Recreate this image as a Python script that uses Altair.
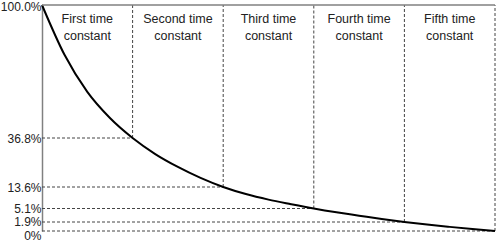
import altair as alt
import pandas as pd

# Decay curve (time in time constants, percent remaining)
t_vals = [0, 0.25, 0.5, 0.75, 1, 1.25, 1.5, 1.75, 2, 2.25, 2.5, 2.75, 3,
          3.25, 3.5, 3.75, 4, 4.25, 4.5, 4.75, 5]
pct_vals = [100, 76.2, 58.7, 46.3, 36.8, 29.2, 23.1, 17.9, 13.6, 10.8, 8.6, 6.8, 5.1,
            4.2, 3.4, 2.6, 1.9, 1.35, 0.87, 0.42, 0]

# Time-constant markers
tc_index = [1, 2, 3, 4, 5]
tc_pct = [36.8, 13.6, 5.1, 1.9, 0]

# Axis ticks
tick_values = [0, 1.9, 5.1, 13.6, 36.8, 100]
tick_labels = ["0%", "1.9%", "5.1%", "13.6%", "36.8%", "100.0%"]

# Column headings
head_pos = [0.5, 1.5, 2.5, 3.5, 4.5]
head_text = ["First time\nconstant", "Second time\nconstant", "Third time\nconstant",
             "Fourth time\nconstant", "Fifth time\nconstant"]

curve_df = pd.DataFrame({"t": t_vals, "v": pct_vals})
tc_df = pd.DataFrame({"t": tc_index, "v": tc_pct, "zero": [0] * 5, "top": [100] * 5})
head_df = pd.DataFrame({"t": head_pos, "label": head_text})
top_df = pd.DataFrame({"a": [0], "b": [5], "v": [100]})

FONT = "Liberation Sans"

label_expr = ""
for val, lab in zip(tick_values, tick_labels):
    label_expr += f"datum.value == {val} ? '{lab}' : "
label_expr += "''"

y_scale = alt.Scale(domain=tick_values, range=[226, 217, 203.5, 182, 133, 0])
x_scale = alt.Scale(domain=[0, 5], nice=False)
y_axis = alt.Axis(values=tick_values, labelExpr=label_expr, ticks=False, grid=False,
                  labelPadding=1, labelOverlap=False, labelFlush=False,
                  domainColor="#808080", domainWidth=1.5,
                  labelFont=FONT, labelFontSize=12, labelColor="#222222",
                  labelOffset={"condition": [
                      {"test": "datum.value == 0", "value": 4},
                      {"test": "datum.value == 1.9", "value": -1},
                      {"test": "datum.value == 100", "value": 1.5},
                  ], "value": 0})

vrules = alt.Chart(tc_df).mark_rule(color="#444444", strokeWidth=1, strokeDash=[3, 2]).encode(
    x=alt.X("t:Q", scale=x_scale, axis=None),
    y=alt.Y("v:Q", scale=y_scale, axis=y_axis, title=None),
    y2="top:Q",
)
hrules = alt.Chart(tc_df).mark_rule(color="#444444", strokeWidth=1, strokeDash=[3, 2]).encode(
    x=alt.X("zero:Q", scale=x_scale, axis=None),
    x2="t:Q",
    y=alt.Y("v:Q", scale=y_scale, axis=y_axis, title=None),
)
top_line = alt.Chart(top_df).mark_rule(color="#808080", strokeWidth=1.5).encode(
    x=alt.X("a:Q", scale=x_scale, axis=None),
    x2="b:Q",
    y=alt.Y("v:Q", scale=y_scale, axis=y_axis, title=None),
)
curve = alt.Chart(curve_df).mark_line(color="#000000", strokeWidth=2, interpolate="monotone").encode(
    x=alt.X("t:Q", scale=x_scale, axis=None),
    y=alt.Y("v:Q", scale=y_scale, axis=y_axis, title=None),
)
heads = alt.Chart(head_df).mark_text(font=FONT, fontSize=12.5, color="#222222", lineBreak="\n",
                                     lineHeight=17, baseline="alphabetic", align="center").encode(
    x=alt.X("t:Q", scale=x_scale, axis=None),
    y=alt.value(18),
    text="label:N",
)

chart = alt.layer(vrules, hrules, curve, top_line, heads).properties(
    width=453, height=226,
    autosize=alt.AutoSizeParams(type="none"),
    padding={"left": 42, "top": 5, "right": 1, "bottom": 11},
).configure_view(stroke=None)

chart.save("out.html", embed_options={"renderer": "svg", "actions": False})
